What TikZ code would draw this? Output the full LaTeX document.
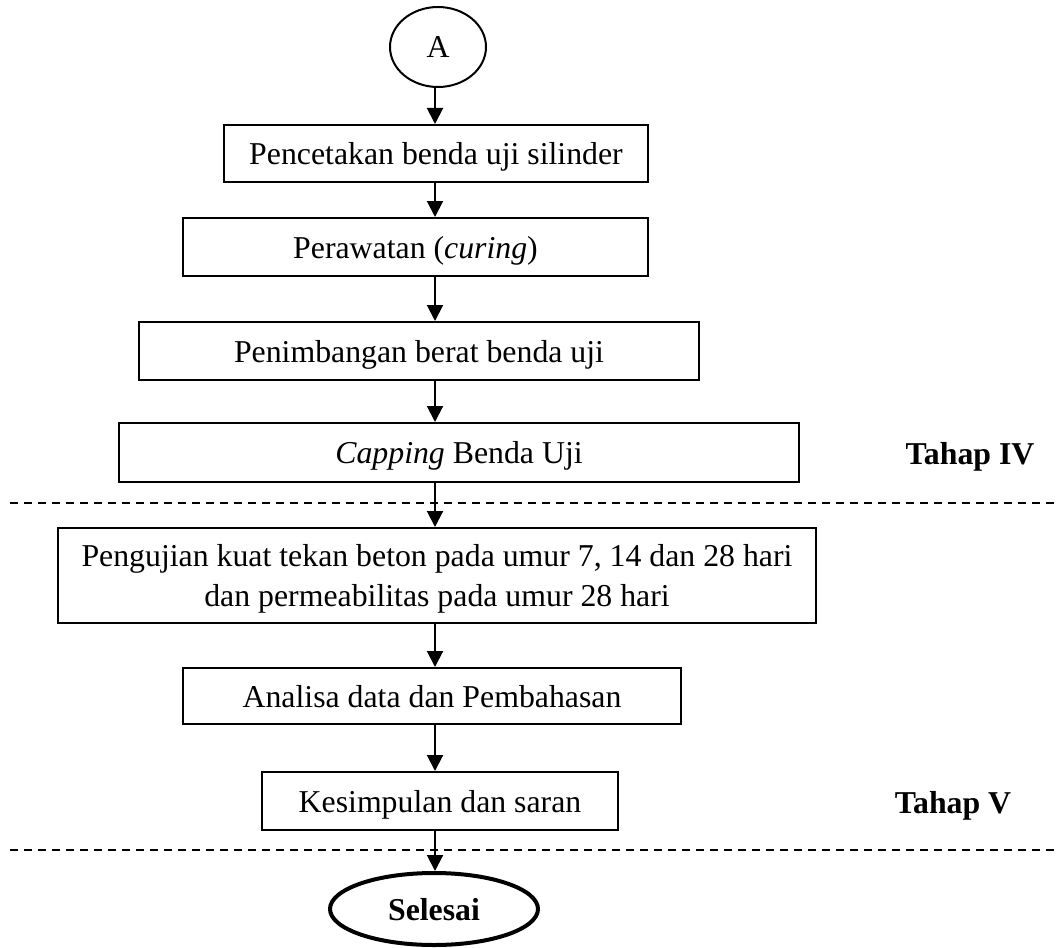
\documentclass[tikz,border=0pt]{standalone}
\usepackage{fontspec}
\setmainfont{Liberation Serif}
\usetikzlibrary{arrows.meta,shapes.geometric}

\begin{document}
\begin{tikzpicture}[x=0.5pt,y=-0.5pt,
			every node/.style={font=\fontsize{15.9}{18}\selectfont,text depth=0pt},
			box/.style={draw,line width=1pt,inner sep=0pt,align=center},
			term/.style={draw,ellipse,inner sep=0pt},
			tahap/.style={font=\fontsize{15.9}{18}\selectfont\bfseries},
			arr/.style={-{Triangle[length=8pt,width=8pt]},line width=1pt},
			sep/.style={dash pattern=on 4pt off 3pt,line width=0.75pt}]
	\useasboundingbox (0,0) rectangle (1059,947);
	\coordinate (spine) at (435,0);
	% start
	\node[term,line width=1pt,minimum width=48pt,minimum height=40pt] (A) at (438,47) {A};
	% steps
	\node[box,minimum width=212pt,minimum height=28.5pt] (cetak) at (436,153.5) {Pencetakan benda uji silinder};
	\node[box,minimum width=232.5pt,minimum height=29pt] (rawat) at (415.5,247) {Perawatan (\textit{curing})};
	\node[box,minimum width=280pt,minimum height=29pt] (timbang) at (419,351) {Penimbangan berat benda uji};
	\node[box,minimum width=340pt,minimum height=29.5pt] (capping) at (459,452.5) {\textit{Capping} Benda Uji};
	\node[box,minimum width=379pt,minimum height=47.5pt,font=\fontsize{15.9}{20}\selectfont,text depth=-1.75pt] (uji) at (437,575.5) {Pengujian kuat tekan beton pada umur 7, 14 dan 28 hari\\dan permeabilitas pada umur 28 hari};
	\node[box,minimum width=249pt,minimum height=28pt] (analisa) at (432,696) {Analisa data dan Pembahasan};
	\node[box,minimum width=178pt,minimum height=29pt] (simpul) at (440,801) {Kesimpulan dan saran};
	% end
	\node[term,line width=2pt,minimum width=104pt,minimum height=36pt,tahap] (selesai) at (434,909) {Selesai};
	% stages
	\node[tahap] (t4) at (970,453) {Tahap IV};
	\node[tahap] (t5) at (953,802) {Tahap V};
	\coordinate (s4l) at (10,503);
	\coordinate (s4r) at (1055,503);
	\coordinate (s5l) at (10,850);
	\coordinate (s5r) at (1055,850);
	\draw[sep] (s4l) -- (s4r);
	\draw[sep] (s5l) -- (s5r);
	% arrows
	\draw[arr] (A.south -| spine) -- (cetak.north -| spine);
	\draw[arr] (cetak.south -| spine) -- (rawat.north -| spine);
	\draw[arr] (rawat.south -| spine) -- (timbang.north -| spine);
	\draw[arr] (timbang.south -| spine) -- (capping.north -| spine);
	\draw[arr] (capping.south -| spine) -- (uji.north -| spine);
	\draw[arr] (uji.south -| spine) -- (analisa.north -| spine);
	\draw[arr] (analisa.south -| spine) -- (simpul.north -| spine);
	\draw[arr] (simpul.south -| spine) -- (selesai.north -| spine);
\end{tikzpicture}
\end{document}
